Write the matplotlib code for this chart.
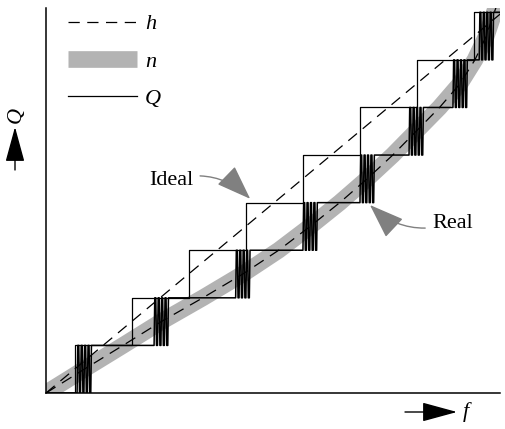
import numpy as np
import matplotlib.pyplot as plt
from matplotlib.lines import Line2D

plt.rcParams['font.family'] = ['Liberation Serif', 'DejaVu Serif']

# quantizer levels (Q) and where each step happens along f
levels = [0, 1, 2, 3, 4, 5, 6, 7, 8]
ideal_steps = [0.5, 1.5, 2.5, 3.5, 4.5, 5.5, 6.5, 7.5]
real_steps = [0.67, 2.02, 3.45, 4.63, 5.63, 6.49, 7.26, 7.72]
# chatter around each real transition (offsets in f)
chatter = [-0.125, -0.095, -0.065, -0.035, -0.005, 0.025, 0.055, 0.085, 0.115]

# real characteristic n (read along the grey band)
n_f = [0, 0.67, 1.35, 2.02, 2.75, 3.45, 4.08, 4.63, 5.15, 5.63, 6.08, 6.49, 6.9, 7.26, 7.52, 7.72, 7.86, 7.95]
n_q = [0, 0.5, 1, 1.5, 2, 2.5, 3, 3.5, 4, 4.5, 5, 5.5, 6, 6.5, 7, 7.5, 8, 8.3]

# ideal characteristic h
h_f = [0, 8]
h_q = [0, 8]

f_max, q_max = 7.96, 8.09

fig = plt.figure(figsize=(5.06, 4.29), dpi=100)
ax = fig.add_axes([46 / 506, 36 / 429, 454 / 506, 385 / 429])
ax.set_xlim(0, f_max)
ax.set_ylim(0, q_max)
for s in ['top', 'right']:
    ax.spines[s].set_visible(False)
for s in ['left', 'bottom']:
    ax.spines[s].set_linewidth(1.1)
ax.set_xticks([])
ax.set_yticks([])

# grey band + dashed curves
ax.plot(n_f, n_q, color='#b3b3b3', lw=12, solid_capstyle='butt', zorder=1)
ax.plot(n_f, n_q, color='black', lw=0.9, dashes=(9, 6), zorder=2)
ax.plot(h_f, h_q, color='black', lw=0.9, dashes=(9, 6), zorder=2)

# ideal staircase
xs, ys = [0], [levels[0]]
for k, x in enumerate(ideal_steps):
    xs += [x, x]
    ys += [levels[k], levels[k + 1]]
xs.append(f_max)
ys.append(levels[-1])
ax.plot(xs, ys, color='black', lw=0.9, zorder=3)

# real staircase with chatter at each transition
xs, ys = [0], [levels[0]]
for k, c in enumerate(real_steps):
    lo, hi = levels[k], levels[k + 1]
    for j, d in enumerate(chatter):
        xs += [c + d, c + d + 0.012]
        ys += [lo, hi] if j % 2 == 0 else [hi, lo]
xs.append(f_max)
ys.append(levels[-1])
ax.plot(xs, ys, color='black', lw=1.1, zorder=3)

# legend
handles = [
    Line2D([], [], color='black', lw=0.9, dashes=(9, 6)),
    Line2D([], [], color='#b3b3b3', lw=12, solid_capstyle='butt'),
    Line2D([], [], color='black', lw=0.9),
]
ax.legend(handles, ['h', 'n', 'Q'], loc='upper left', frameon=False,
          bbox_to_anchor=(0.029, 1.008), borderaxespad=0,
          handlelength=3.1, handletextpad=0.35, labelspacing=0.75,
          prop={'size': 16, 'style': 'italic'})

# annotations
ax.annotate('Ideal', xy=(3.58, 4.08), xytext=(2.58, 4.47), fontsize=16,
            ha='right', va='center',
            arrowprops=dict(arrowstyle='-|>,head_length=1.1,head_width=0.4',
                            mutation_scale=20, color='0.5', lw=1.0,
                            connectionstyle='arc3,rad=-0.3',
                            shrinkA=3, shrinkB=0))
ax.annotate('Real', xy=(5.68, 3.95), xytext=(6.77, 3.57), fontsize=16,
            ha='left', va='center',
            arrowprops=dict(arrowstyle='-|>,head_length=1.1,head_width=0.4',
                            mutation_scale=20, color='0.5', lw=1.0,
                            connectionstyle='arc3,rad=-0.3',
                            shrinkA=3, shrinkB=0))

# axis arrows and labels
fig.add_artist(plt.Annotation('', xy=(15, 302), xytext=(15, 259),
                              xycoords='figure pixels',
                              arrowprops=dict(arrowstyle='-|>,head_length=1.1,head_width=0.3',
                                              mutation_scale=20, color='black', lw=1.0,
                                              shrinkA=0, shrinkB=0)))
fig.text(16 / 506, 314 / 429, 'Q', rotation=90, fontsize=16, style='italic',
         ha='center', va='center')
fig.add_artist(plt.Annotation('', xy=(457, 17), xytext=(405, 17),
                              xycoords='figure pixels',
                              arrowprops=dict(arrowstyle='-|>,head_length=1.1,head_width=0.3',
                                              mutation_scale=20, color='black', lw=1.0,
                                              shrinkA=0, shrinkB=0)))
fig.text(466 / 506, 17 / 429, 'f', fontsize=16, style='italic',
         ha='center', va='center')

fig.savefig('out.png', dpi=100)
